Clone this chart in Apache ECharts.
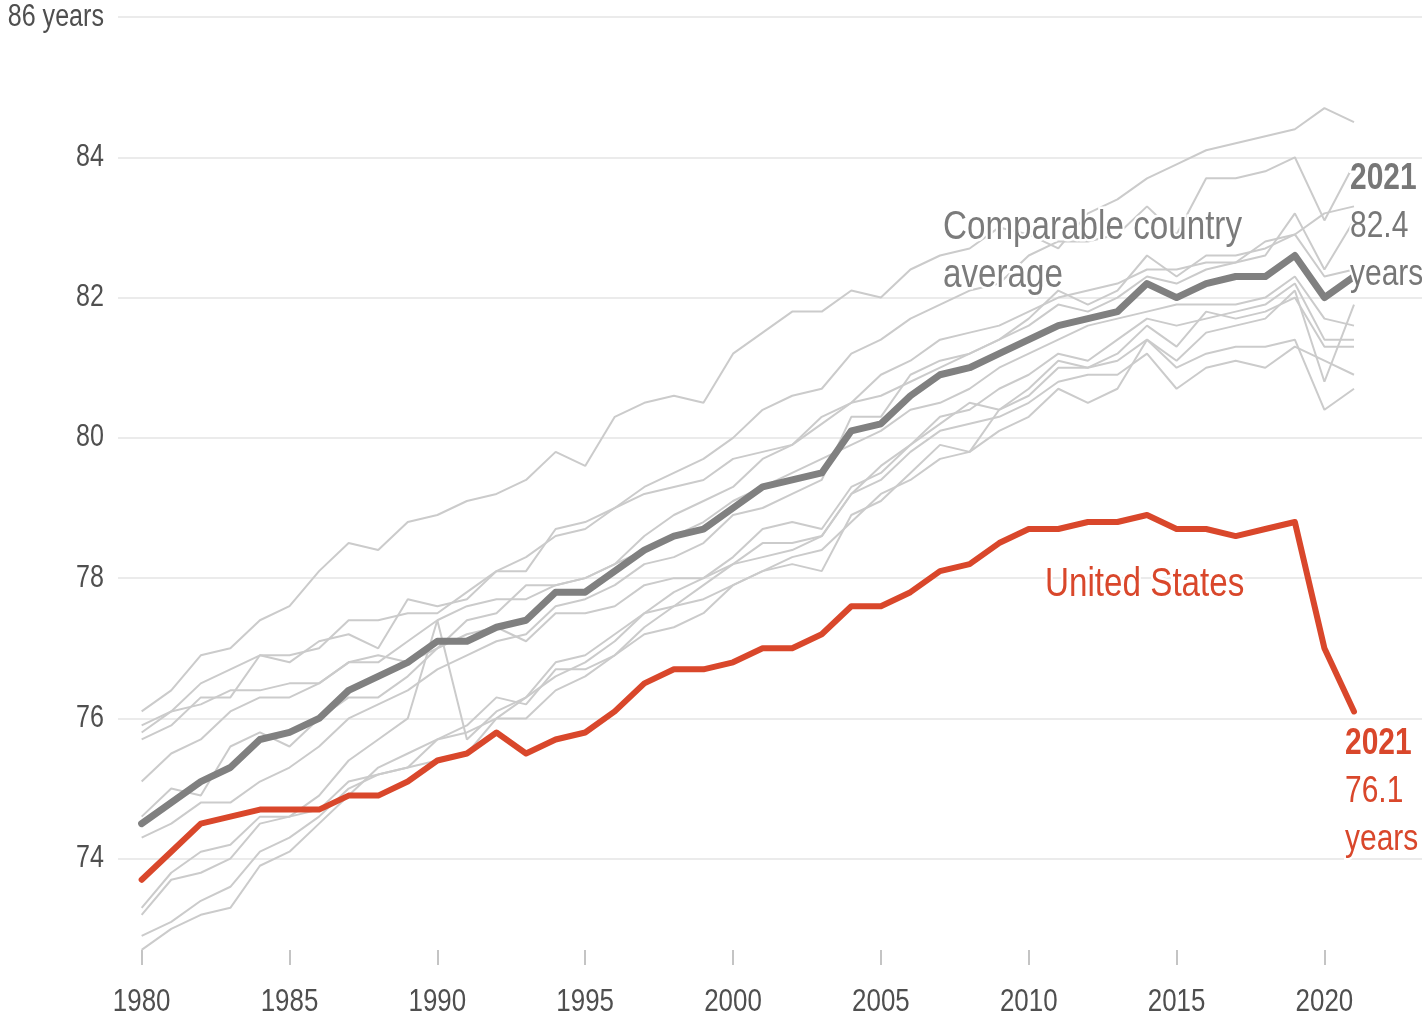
<!DOCTYPE html>
<html>
<head>
<meta charset="utf-8">
<title>Life expectancy at birth, 1980-2021</title>
<script src="https://cdn.jsdelivr.net/npm/echarts@6/dist/echarts.min.js"></script>
<style>
  html, body { margin: 0; padding: 0; background: #fff; }
  #chart { width: 1422px; height: 1024px; }
</style>
</head>
<body>
<div id="chart"></div>
<script>
const years = [1980, 1981, 1982, 1983, 1984, 1985, 1986, 1987, 1988, 1989,
  1990, 1991, 1992, 1993, 1994, 1995, 1996, 1997, 1998, 1999,
  2000, 2001, 2002, 2003, 2004, 2005, 2006, 2007, 2008, 2009,
  2010, 2011, 2012, 2013, 2014, 2015, 2016, 2017, 2018, 2019, 2020, 2021]

const unitedStates = [73.7, 74.1, 74.5, 74.6, 74.7, 74.7, 74.7, 74.9, 74.9, 75.1,
  75.4, 75.5, 75.8, 75.5, 75.7, 75.8, 76.1, 76.5, 76.7, 76.7,
  76.8, 77.0, 77.0, 77.2, 77.6, 77.6, 77.8, 78.1, 78.2, 78.5,
  78.7, 78.7, 78.8, 78.8, 78.9, 78.7, 78.7, 78.6, 78.7, 78.8, 77.0, 76.1]

const comparableAvg = [74.5, 74.8, 75.1, 75.3, 75.7, 75.8, 76.0, 76.4, 76.6, 76.8,
  77.1, 77.1, 77.3, 77.4, 77.8, 77.8, 78.1, 78.4, 78.6, 78.7,
  79.0, 79.3, 79.4, 79.5, 80.1, 80.2, 80.6, 80.9, 81.0, 81.2,
  81.4, 81.6, 81.7, 81.8, 82.2, 82.0, 82.2, 82.3, 82.3, 82.6, 82.0, 82.3]

// comparable countries, one thin grey line each
const japan = [76.1, 76.4, 76.9, 77.0, 77.4, 77.6, 78.1, 78.5, 78.4, 78.8,
  78.9, 79.1, 79.2, 79.4, 79.8, 79.6, 80.3, 80.5, 80.6, 80.5,
  81.2, 81.5, 81.8, 81.8, 82.1, 82.0, 82.4, 82.6, 82.7, 83.0,
  82.9, 82.7, 83.2, 83.4, 83.7, 83.9, 84.1, 84.2, 84.3, 84.4, 84.7, 84.5]
const switzerland = [75.7, 75.9, 76.3, 76.3, 76.9, 76.9, 77.0, 77.4, 77.4, 77.5,
  77.5, 77.8, 78.1, 78.3, 78.6, 78.7, 79.0, 79.3, 79.5, 79.7,
  80.0, 80.4, 80.6, 80.7, 81.2, 81.4, 81.7, 81.9, 82.1, 82.2,
  82.6, 82.8, 82.8, 82.9, 83.3, 82.9, 83.7, 83.7, 83.8, 84.0, 83.1, 83.9]
const sweden = [75.8, 76.1, 76.5, 76.7, 76.9, 76.8, 77.1, 77.2, 77.0, 77.7,
  77.6, 77.7, 78.1, 78.1, 78.7, 78.8, 79.0, 79.2, 79.3, 79.4,
  79.7, 79.8, 79.9, 80.2, 80.5, 80.6, 80.8, 81.0, 81.2, 81.4,
  81.6, 81.9, 81.8, 82.0, 82.3, 82.2, 82.4, 82.5, 82.6, 83.2, 82.4, 83.1]
const netherlands = [75.9, 76.1, 76.2, 76.4, 76.4, 76.5, 76.5, 76.8, 76.9, 76.8,
  77.0, 77.2, 77.3, 77.1, 77.5, 77.5, 77.6, 77.9, 78.0, 78.0,
  78.2, 78.3, 78.4, 78.6, 79.2, 79.6, 79.9, 80.3, 80.4, 80.7,
  80.9, 81.2, 81.1, 81.4, 81.7, 81.6, 81.7, 81.8, 81.9, 82.2, 81.4, 81.4]
const canada = [75.1, 75.5, 75.7, 76.1, 76.3, 76.3, 76.5, 76.8, 76.8, 77.1,
  77.4, 77.6, 77.7, 77.7, 77.9, 78.0, 78.2, 78.4, 78.6, 78.8,
  79.1, 79.3, 79.5, 79.7, 79.9, 80.1, 80.4, 80.5, 80.7, 81.0,
  81.2, 81.4, 81.6, 81.7, 81.8, 81.9, 81.9, 81.9, 82.0, 82.3, 81.7, 81.6]
const australia = [74.6, 75.0, 74.9, 75.6, 75.8, 75.6, 76.0, 76.3, 76.3, 76.6,
  77.0, 77.4, 77.5, 77.9, 77.9, 78.0, 78.2, 78.6, 78.9, 79.1,
  79.3, 79.7, 79.9, 80.3, 80.5, 80.9, 81.1, 81.4, 81.5, 81.6,
  81.8, 82.0, 82.1, 82.2, 82.4, 82.4, 82.5, 82.5, 82.8, 82.9, 83.2, 83.3]
const france = [74.3, 74.5, 74.8, 74.8, 75.1, 75.3, 75.6, 76.0, 76.2, 76.4,
  76.7, 76.9, 77.1, 77.2, 77.6, 77.7, 77.9, 78.2, 78.3, 78.5,
  78.9, 79.0, 79.2, 79.4, 80.3, 80.3, 80.9, 81.1, 81.2, 81.4,
  81.7, 82.1, 81.9, 82.1, 82.6, 82.3, 82.6, 82.6, 82.7, 82.9, 82.3, 82.4]
const belgium = [73.3, 73.8, 74.1, 74.2, 74.6, 74.6, 74.9, 75.4, 75.7, 76.0,
  77.4, 75.7, 76.1, 76.3, 76.8, 76.9, 77.2, 77.5, 77.6, 77.7,
  77.9, 78.1, 78.2, 78.1, 78.9, 79.1, 79.5, 79.9, 79.8, 80.1,
  80.3, 80.7, 80.5, 80.7, 81.4, 81.1, 81.5, 81.6, 81.7, 82.1, 80.8, 81.9]
const unitedKingdom = [73.2, 73.7, 73.8, 74.0, 74.5, 74.6, 74.7, 75.1, 75.2, 75.3,
  75.7, 75.9, 76.3, 76.2, 76.7, 76.7, 76.9, 77.2, 77.3, 77.5,
  77.9, 78.1, 78.3, 78.4, 78.8, 79.2, 79.4, 79.7, 79.8, 80.4,
  80.6, 81.0, 81.0, 81.1, 81.4, 81.0, 81.2, 81.3, 81.3, 81.4, 80.4, 80.7]
const germany = [72.9, 73.1, 73.4, 73.6, 74.1, 74.3, 74.6, 75.0, 75.2, 75.3,
  75.4, 75.5, 76.0, 76.0, 76.4, 76.6, 76.9, 77.3, 77.6, 77.9,
  78.2, 78.5, 78.5, 78.6, 79.2, 79.4, 79.8, 80.1, 80.2, 80.3,
  80.5, 80.8, 80.9, 80.9, 81.2, 80.7, 81.0, 81.1, 81.0, 81.3, 81.1, 80.9]
const austria = [72.7, 73.0, 73.2, 73.3, 73.9, 74.1, 74.5, 74.9, 75.3, 75.5,
  75.7, 75.8, 76.0, 76.3, 76.6, 76.8, 77.1, 77.5, 77.8, 78.0,
  78.3, 78.7, 78.8, 78.7, 79.3, 79.5, 79.9, 80.2, 80.5, 80.4,
  80.7, 81.1, 81.0, 81.2, 81.6, 81.3, 81.8, 81.7, 81.8, 82.0, 81.3, 81.3]

const countries = [japan, switzerland, sweden, netherlands, canada, australia,
  france, belgium, unitedKingdom, germany, austria]

const xTicks = [1980, 1985, 1990, 1995, 2000, 2005, 2010, 2015, 2020]
const yTicks = [74, 76, 78, 80, 82, 84, 86]

// the original type is a narrow grotesque; squeeze Liberation Sans to match
const FONT = "'Liberation Sans', Arial, Helvetica, sans-serif"
const NARROW = 0.81
const RED = '#d9472b'
const DARK_GREY = '#808080'
const LIGHT_GREY = '#cbcbcb'
const TEXT = '#4f4f4f'

const toPairs = arr => years.map((y, i) => [y, arr[i]])

const chart = echarts.init(document.getElementById('chart'), null, { renderer: 'canvas' })

const series = countries.map(c => ({
  type: 'line',
  data: toPairs(c),
  symbol: 'none',
  silent: true,
  lineStyle: { color: LIGHT_GREY, width: 2 },
  z: 1
}))
series.push({
  type: 'line',
  data: toPairs(comparableAvg),
  symbol: 'none',
  lineStyle: { color: DARK_GREY, width: 7, cap: 'round', join: 'round' },
  z: 3
})
series.push({
  type: 'line',
  data: toPairs(unitedStates),
  symbol: 'none',
  lineStyle: { color: RED, width: 6, cap: 'round', join: 'round' },
  z: 4
})

const option = {
  animation: false,
  backgroundColor: '#fff',
  grid: { left: 118, right: 0, top: 17, bottom: 25, outerBoundsMode: 'none' },
  xAxis: {
    type: 'value',
    min: 1979.2,
    max: 2023.3,
    offset: -49,
    axisLine: { show: false },
    splitLine: { show: false },
    axisTick: {
      show: true,
      customValues: xTicks,
      length: 15,
      lineStyle: { color: '#c4c4c4', width: 2 }
    },
    axisLabel: { show: false }
  },
  yAxis: {
    type: 'value',
    min: 72,
    max: 86,
    interval: 2,
    axisLine: { show: false },
    axisTick: { show: false },
    splitLine: {
      lineStyle: {
        width: 2,
        // no rule at 72, the bottom edge
        color: ['rgba(0,0,0,0)', '#ebebeb', '#ebebeb', '#ebebeb', '#ebebeb', '#ebebeb', '#ebebeb', '#ebebeb']
      }
    },
    axisLabel: { show: false }
  },
  series: series
}

chart.setOption(option)

// tick labels and notes, squeezed horizontally like the original lettering
const textEl = (x, y, text, opts) => ({
  type: 'text',
  x: x,
  y: y,
  scaleX: NARROW,
  z: 10,
  silent: true,
  style: Object.assign({
    text: text,
    fontFamily: FONT,
    fontSize: 31,
    fill: TEXT
  }, opts)
})

const graphics = []
yTicks.forEach(v => {
  const py = chart.convertToPixel({ gridIndex: 0 }, [1980, v])[1]
  graphics.push(textEl(104, py, v === 86 ? '86 years' : String(v), { align: 'right', verticalAlign: 'middle' }))
})
xTicks.forEach(v => {
  const px = chart.convertToPixel({ gridIndex: 0 }, [v, 80])[0]
  graphics.push(textEl(px, 1002, String(v), { align: 'center', verticalAlign: 'middle', fontSize: 32 }))
})

const halo = { stroke: '#fff', lineWidth: 5 }
graphics.push(textEl(943, 204, 'Comparable country\naverage',
  Object.assign({ fontSize: 41, lineHeight: 48, fill: '#7b7b7b' }, halo)))
graphics.push(textEl(1045, 561, 'United States',
  Object.assign({ fontSize: 41, lineHeight: 48, fill: RED }, halo)))
graphics.push(textEl(1350, 155, '{b|2021}\n82.4\nyears',
  Object.assign({
    fontSize: 37, lineHeight: 48, fill: '#777',
    rich: { b: { fontWeight: 'bold', fontFamily: FONT, fontSize: 37, lineHeight: 48, fill: '#777' } }
  }, halo)))
graphics.push(textEl(1345, 720, '{b|2021}\n76.1\nyears',
  Object.assign({
    fontSize: 37, lineHeight: 48, fill: RED,
    rich: { b: { fontWeight: 'bold', fontFamily: FONT, fontSize: 37, lineHeight: 48, fill: RED } }
  }, halo)))

chart.setOption({ graphic: graphics })
</script>
</body>
</html>
